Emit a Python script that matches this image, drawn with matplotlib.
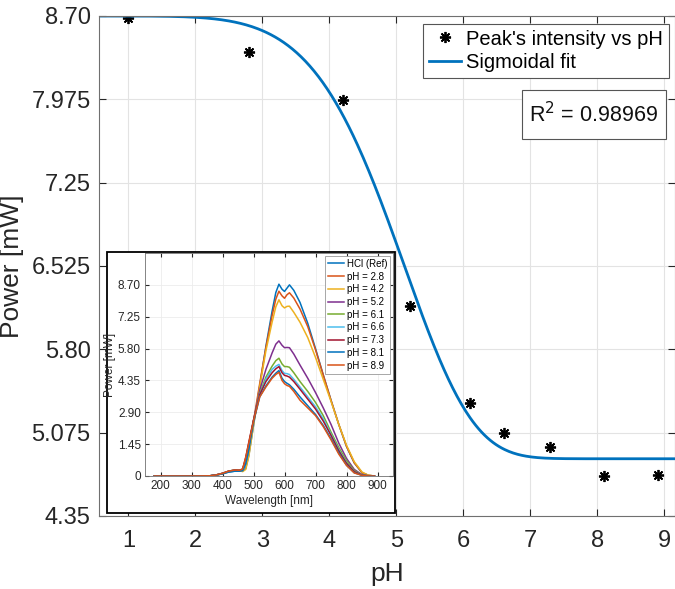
import numpy as np
import matplotlib.pyplot as plt
from matplotlib.patches import Rectangle

plt.rcParams['font.family'] = ['Liberation Sans', 'DejaVu Sans']

# main chart: peak intensity vs pH
ph = [1.0, 2.8, 4.2, 5.2, 6.1, 6.6, 7.3, 8.1, 8.9]
peak_power = [8.68, 8.39, 7.968, 6.176, 5.337, 5.075, 4.953, 4.696, 4.708]  # [mW]

# sigmoidal fit parameters (top, bottom, scale, steepness)
fit_top = 8.70
fit_bottom = 4.848
fit_scale = 5.28
fit_power = 6.0

yticks_main = [4.35, 5.075, 5.80, 6.525, 7.25, 7.975, 8.70]
ylabels_main = ["4.35", "5.075", "5.80", "6.525", "7.25", "7.975", "8.70"]
xticks_main = [1, 2, 3, 4, 5, 6, 7, 8, 9]

# inset: spectra [nm] -> [mW]
wavelength = [180, 300, 360, 380, 400, 420, 440, 455, 465, 475, 485, 500, 520, 540,
              560, 572, 582, 592, 600, 608, 616, 630, 650, 675, 700, 725, 750, 775,
              800, 825, 850, 870, 890]
spec_hcl = [0, 0, 0.01, 0.04, 0.10, 0.18, 0.22, 0.22, 0.22, 0.35, 0.95, 2.3, 4.1, 5.9,
            7.5, 8.35, 8.73, 8.50, 8.40, 8.55, 8.70, 8.45, 7.90, 6.95, 5.80, 4.60, 3.45,
            2.35, 1.35, 0.60, 0.15, 0.03, 0]
spec_28 = [0, 0, 0.01, 0.05, 0.12, 0.22, 0.27, 0.25, 0.30, 0.75, 1.40, 2.5, 4.2, 5.85,
           7.3, 8.05, 8.41, 8.20, 8.09, 8.25, 8.34, 8.10, 7.60, 6.80, 5.75, 4.60, 3.45,
           2.35, 1.35, 0.60, 0.15, 0.03, 0]
spec_42 = [0, 0, 0.01, 0.04, 0.11, 0.20, 0.25, 0.24, 0.20, 0.30, 0.90, 2.3, 4.05, 5.7,
           7.0, 7.7, 8.02, 7.75, 7.65, 7.72, 7.73, 7.45, 7.00, 6.30, 5.40, 4.40, 3.40,
           2.35, 1.40, 0.65, 0.18, 0.04, 0]
spec_52 = [0, 0, 0.01, 0.05, 0.12, 0.21, 0.26, 0.24, 0.28, 0.70, 1.40, 2.5, 3.9, 4.85,
           5.6, 6.0, 6.15, 5.95, 5.84, 5.85, 5.84, 5.55, 5.05, 4.45, 3.80, 3.10, 2.35,
           1.50, 0.80, 0.30, 0.06, 0.01, 0]
spec_61 = [0, 0, 0.01, 0.05, 0.12, 0.22, 0.27, 0.25, 0.30, 0.75, 1.45, 2.5, 3.75, 4.5,
           5.0, 5.25, 5.36, 5.10, 4.98, 4.98, 4.95, 4.70, 4.30, 3.85, 3.35, 2.75, 2.00,
           1.30, 0.70, 0.25, 0.05, 0.01, 0]
spec_66 = [0, 0, 0.01, 0.05, 0.12, 0.22, 0.27, 0.25, 0.30, 0.75, 1.45, 2.5, 3.7, 4.4,
           4.85, 5.0, 5.08, 4.80, 4.67, 4.66, 4.62, 4.40, 4.05, 3.60, 3.15, 2.60, 1.90,
           1.20, 0.60, 0.20, 0.04, 0.01, 0]
spec_73 = [0, 0, 0.01, 0.05, 0.12, 0.22, 0.27, 0.26, 0.32, 0.85, 1.55, 2.55, 3.7, 4.3,
           4.7, 4.88, 4.98, 4.70, 4.58, 4.55, 4.50, 4.30, 3.95, 3.50, 3.05, 2.50, 1.85,
           1.15, 0.58, 0.20, 0.04, 0.01, 0]
spec_81 = [0, 0, 0.01, 0.04, 0.10, 0.18, 0.22, 0.22, 0.24, 0.55, 1.20, 2.45, 3.6, 4.1,
           4.5, 4.68, 4.80, 4.45, 4.30, 4.22, 4.15, 3.95, 3.60, 3.20, 2.80, 2.30, 1.70,
           1.05, 0.50, 0.15, 0.03, 0, 0]
spec_89 = [0, 0, 0.01, 0.05, 0.12, 0.22, 0.27, 0.26, 0.32, 0.85, 1.50, 2.5, 3.6, 4.05,
           4.45, 4.62, 4.72, 4.35, 4.20, 4.12, 4.08, 3.85, 3.45, 3.10, 2.75, 2.25, 1.65,
           1.00, 0.48, 0.14, 0.03, 0, 0]
spectra = [spec_hcl, spec_28, spec_42, spec_52, spec_61, spec_66, spec_73, spec_81, spec_89]
spec_labels = ["HCl (Ref)", "pH = 2.8", "pH = 4.2", "pH = 5.2", "pH = 6.1",
               "pH = 6.6", "pH = 7.3", "pH = 8.1", "pH = 8.9"]
spec_colors = ["#0072BD", "#D95319", "#EDB120", "#7E2F8E", "#77AC30",
               "#4DBEEE", "#A2142F", "#0072BD", "#D95319"]
yticks_inset = [0, 1.45, 2.90, 4.35, 5.80, 7.25, 8.70]
ylabels_inset = ["0", "1.45", "2.90", "4.35", "5.80", "7.25", "8.70"]
xticks_inset = [200, 300, 400, 500, 600, 700, 800, 900]

W, H = 675, 589
fig = plt.figure(figsize=(W / 100, H / 100), dpi=100)
ax = fig.add_axes([99 / W, 73 / H, 576 / W, 500 / H])

xlim = (0.56, 9.16)
x_fit = np.linspace(xlim[0], xlim[1], 400)
y_fit = fit_bottom + (fit_top - fit_bottom) * np.exp(-(x_fit / fit_scale) ** fit_power)

ax.plot(ph, peak_power, linestyle="none", marker=(8, 2, 0), markersize=8,
        markeredgewidth=1.3, color="black", label="Peak's intensity vs pH")
ax.plot(x_fit, y_fit, color="#0072BD", linewidth=2, label="Sigmoidal fit")
ax.set_xlim(*xlim)
ax.set_ylim(4.35, 8.70)
ax.set_xticks(xticks_main)
ax.set_yticks(yticks_main)
ax.set_yticklabels(ylabels_main)
ax.tick_params(direction="in", top=True, right=True, labelsize=17, colors="#262626",
               length=5)
ax.tick_params(axis="x", pad=10)
ax.tick_params(axis="y", pad=6)
ax.grid(True, color="#e3e3e3", linewidth=0.8)
ax.set_axisbelow(True)
for s in ax.spines.values():
    s.set_color("#707070")
ax.set_xlabel("pH", fontsize=19, color="#262626", labelpad=7)
ax.set_ylabel("Power [mW]", fontsize=19, color="#262626", labelpad=5)

leg = ax.legend(loc="upper right", bbox_to_anchor=(0.99, 0.985), fontsize=14.5,
                fancybox=False, edgecolor="#555555", framealpha=1,
                handlelength=1.6, handletextpad=0.25, borderpad=0.3, labelspacing=0.2,
                borderaxespad=0)
leg.get_frame().set_linewidth(0.8)

# R^2 box
ax.add_patch(Rectangle((0.734, 0.754), 0.25, 0.098, transform=ax.transAxes,
                       facecolor="white", edgecolor="#555555", linewidth=0.8, zorder=5))
ax.text(0.859, 0.803, "R$^2$ = 0.98969", transform=ax.transAxes, ha="center",
        va="center", fontsize=15.5, color="#111111", zorder=6)

# inset frame (white panel with black border)
fig.patches.append(Rectangle((107 / W, (H - 513) / H), 288 / W, 261 / H,
                             transform=fig.transFigure, facecolor="white",
                             edgecolor="black", linewidth=1.3, zorder=3))

ins = fig.add_axes([145 / W, (H - 476) / H, 248 / W, 223 / H])
ins.set_zorder(4)
for vals, lab, col in zip(spectra, spec_labels, spec_colors):
    ins.plot(wavelength, vals, color=col, linewidth=1.1, label=lab)
ins.set_xlim(150, 950)
ins.set_ylim(0, 10.15)
ins.set_xticks(xticks_inset)
ins.set_yticks(yticks_inset)
ins.set_yticklabels(ylabels_inset)
ins.tick_params(direction="in", top=True, right=True, labelsize=8.5, colors="#262626",
                length=3, pad=3)
ins.grid(True, color="#ececec", linewidth=0.6)
for s in ins.spines.values():
    s.set_color("#707070")
    s.set_linewidth(0.6)
ins.set_xlabel("Wavelength [nm]", fontsize=8.5, color="#262626", labelpad=2)
ins.set_ylabel("Power [mW]", fontsize=8.5, color="#262626", labelpad=1)
leg2 = ins.legend(loc="upper right", fontsize=7, fancybox=False, edgecolor="#999999",
                  framealpha=1, handlelength=1.6, handletextpad=0.3, borderpad=0.3,
                  labelspacing=0.28, borderaxespad=0.3)
leg2.get_frame().set_linewidth(0.6)

fig.savefig("out.png", dpi=100)
